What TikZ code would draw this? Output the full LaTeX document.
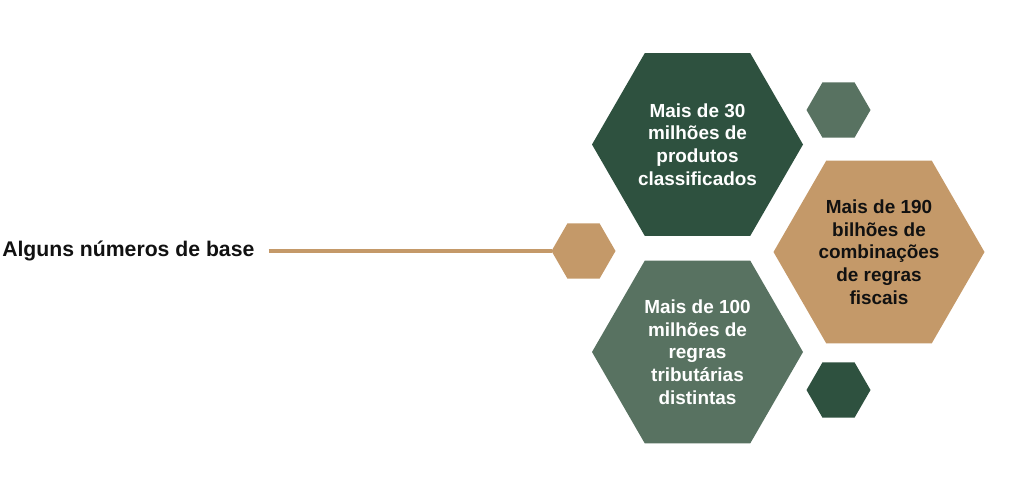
\documentclass[tikz,border=0pt]{standalone}
\usepackage{fontspec}
\setmainfont{Liberation Sans}
\usetikzlibrary{shapes.geometric}
\definecolor{darkgreen}{RGB}{46,81,63}
\definecolor{midgreen}{RGB}{88,114,97}
\definecolor{tan}{RGB}{196,153,105}
\definecolor{ink}{RGB}{17,17,17}
\tikzset{
  hexbig/.style={regular polygon, regular polygon sides=6, minimum size=211*0.75pt, inner sep=0pt, outer sep=0pt, draw=none},
  hexsmall/.style={regular polygon, regular polygon sides=6, minimum size=64*0.75pt, inner sep=0pt, outer sep=0pt, draw=none},
  hextext/.style={align=center, font=\fontsize{14.2pt}{17pt}\selectfont\bfseries, inner sep=0pt},
  connector/.style={draw=tan, line width=3pt},
}
\begin{document}
\begin{tikzpicture}[x=0.75pt, y=-0.75pt]
\useasboundingbox (0,0) rectangle (1024,497);
% big hexagons
\node[hexbig, fill=darkgreen] (hexA) at (697.5,144.5) {};
\node[hexbig, fill=midgreen] (hexB) at (697.5,352) {};
\node[hexbig, fill=tan] (hexC) at (879,252) {};
% small hexagons
\node[hexsmall, fill=tan] (hexS) at (583.5,251) {};
\node[hexsmall, fill=midgreen] (hexT) at (838.5,110) {};
\node[hexsmall, fill=darkgreen] (hexU) at (838.5,390) {};
% texts
\node[hextext, text=white] (tA) at (hexA.center) {Mais de 30\\milhões de\\produtos\\classificados};
\node[hextext, text=white] (tB) at (hexB.center) {Mais de 100\\milhões de\\regras\\tributárias\\distintas};
\node[hextext, text=ink] (tC) at (hexC.center) {Mais de 190\\bilhões de\\combinações\\de regras\\fiscais};
% label
\node[anchor=base west, inner sep=0pt, font=\fontsize{15.9pt}{19pt}\selectfont\bfseries, text=ink] (label) at (2,256) {Alguns números de base};
\draw[connector, shorten <=10.5pt] (label.east |- hexS.west) -- (hexS.west);
\end{tikzpicture}
\end{document}
